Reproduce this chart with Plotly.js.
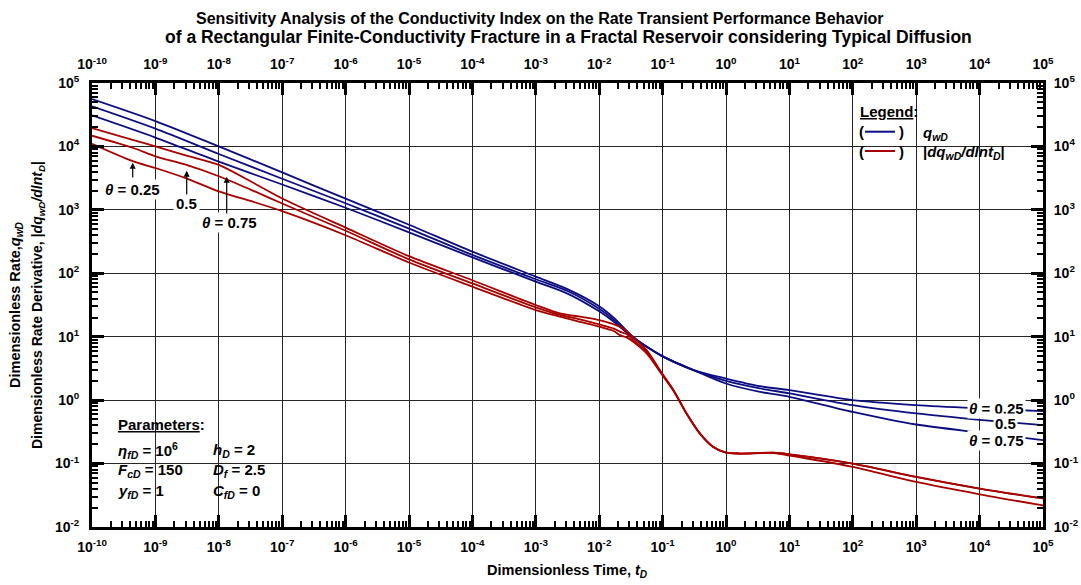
<!DOCTYPE html>
<html><head><meta charset="utf-8">
<script src="https://cdn.plot.ly/plotly-3.0.1.min.js"></script>
<style>html,body{margin:0;padding:0;background:#fff;}#chart{width:1081px;height:585px;}</style>
</head><body><div id="chart"></div>
<script>
// ---------- data ----------
const tBlue = [1e-10, 1e-9, 1e-8, 1e-7, 1e-6, 1e-5, 1e-4, 1e-3, 3.16e-3, 1e-2, 1.78e-2, 3.16e-2, 5.62e-2, 0.1, 0.316, 1, 3.44, 10, 100, 1e3, 1e4, 1e5];
const qwD_theta025 = [30830, 13800, 5750, 2510, 1080, 442, 178, 73.8, 47.9, 25.1, 16.6, 10.2, 6.92, 4.90, 2.95, 2.19, 1.66, 1.44, 1.0, 0.834, 0.741, 0.670];
const qwD_theta05  = [42760, 19050, 7590, 3090, 1270, 507, 195, 80.5, 52.5, 27.5, 17.8, 10.5, 6.92, 4.90, 2.95, 2.02, 1.53, 1.28, 0.834, 0.617, 0.490, 0.403];
const qwD_theta075 = [55850, 25120, 10000, 3890, 1500, 583, 219, 88.5, 56.2, 30.2, 19.1, 10.7, 6.92, 4.90, 2.95, 1.83, 1.35, 1.13, 0.653, 0.413, 0.309, 0.234];

const tRed = [1e-10, 4.5e-10, 1e-9, 3e-9, 1e-8, 3.16e-8, 1e-7, 1e-6, 1e-5, 1e-4, 1e-3, 2.4e-3, 4.95e-3, 1e-2, 1.67e-2, 2.12e-2, 2.7e-2, 3.44e-2, 5.6e-2, 9.1e-2, 0.148, 0.239, 0.389, 0.631, 1, 1.66, 5.6, 10, 100, 1e3, 1e4, 1e5];
const dqwD_theta025 = [11020, 5810, 4570, 3160, 1950, 1380, 955, 398, 148, 61.7, 26.3, 20.7, 17.2, 14.4, 12.4, 10.6, 9.75, 8.34, 5.45, 2.80, 1.41, 0.610, 0.295, 0.182, 0.149, 0.144, 0.148, 0.140, 0.100, 0.0617, 0.0404, 0.0282];
const dqwD_theta05  = [14760, 9440, 6970, 5150, 3390, 2090, 1260, 468, 166, 69.2, 29.0, 22.0, 18.7, 15.6, 13.5, 12.0, 11.0, 8.85, 5.79, 2.86, 1.44, 0.615, 0.297, 0.183, 0.149, 0.144, 0.148, 0.140, 0.100, 0.0617, 0.0404, 0.0282];
const dqwD_theta075 = [19500, 12590, 10000, 7240, 5120, 2820, 1510, 525, 186, 77.6, 31.6, 23.3, 20.7, 18.3, 15.8, 14.4, 12.3, 9.75, 6.15, 2.97, 1.44, 0.615, 0.297, 0.183, 0.149, 0.144, 0.146, 0.134, 0.0885, 0.0513, 0.0328, 0.0219];

const xDecades = [1e-10,1e-9,1e-8,1e-7,1e-6,1e-5,1e-4,1e-3,1e-2,1e-1,1,10,100,1e3,1e4,1e5];
const xTickText = ['10<sup>-10</sup>','10<sup>-9</sup>','10<sup>-8</sup>','10<sup>-7</sup>','10<sup>-6</sup>','10<sup>-5</sup>','10<sup>-4</sup>','10<sup>-3</sup>','10<sup>-2</sup>','10<sup>-1</sup>','10<sup>0</sup>','10<sup>1</sup>','10<sup>2</sup>','10<sup>3</sup>','10<sup>4</sup>','10<sup>5</sup>'];
const yDecades = [1e-2,1e-1,1,10,100,1e3,1e4,1e5];
const yTickText = ['10<sup>-2</sup>','10<sup>-1</sup>','10<sup>0</sup>','10<sup>1</sup>','10<sup>2</sup>','10<sup>3</sup>','10<sup>4</sup>','10<sup>5</sup>'];
const titleLines = ['Sensitivity Analysis of the Conductivity Index on the Rate Transient Performance Behavior',
                    'of a Rectangular Finite-Conductivity Fracture in a Fractal Reservoir considering Typical Diffusion'];

// ---------- styling ----------
const FONT = 'Liberation Sans, Arial, Helvetica, sans-serif';
const BLUE = '#0d0d80';
const RED = '#a80000';
const L = 92, R = 38, T = 83, B = 58, W = 1081 - L - R, H = 585 - T - B;
const px = p => (p - L) / W;
const py = p => 1 - (p - T) / H;

function minorVals(lo, hi) {
  const v = [];
  for (let k = lo; k < hi; k++) for (let m = 2; m <= 9; m++) v.push(m * Math.pow(10, k));
  return v;
}
const xMinor = minorVals(-10, 5);
const yMinor = minorVals(-2, 5);

function axis(extra, vals, text, minor) {
  return Object.assign({
    type: 'log', tickmode: 'array', tickvals: vals, ticktext: text,
    ticks: 'inside', ticklen: 12, tickwidth: 3, tickcolor: '#000',
    showline: true, linewidth: 3, linecolor: '#000', zeroline: false,
    tickfont: {family: FONT, size: 14, color: '#000', weight: 'bold'},
    minor: {tickvals: minor, ticks: 'inside', ticklen: 6, tickwidth: 2, tickcolor: '#000', showgrid: false},
    fixedrange: true
  }, extra);
}

const line = (x, y, c, name) => ({x, y, type: 'scatter', mode: 'lines', name,
  line: {color: c, width: 1.8, shape: 'spline', smoothing: 0.8}, showlegend: false, hoverinfo: 'skip'});

const traces = [
  line(tBlue, qwD_theta025, BLUE, 'qwD θ=0.25'),
  line(tBlue, qwD_theta05, BLUE, 'qwD θ=0.5'),
  line(tBlue, qwD_theta075, BLUE, 'qwD θ=0.75'),
  line(tRed, dqwD_theta025, RED, 'dqwD θ=0.25'),
  line(tRed, dqwD_theta05, RED, 'dqwD θ=0.5'),
  line(tRed, dqwD_theta075, RED, 'dqwD θ=0.75'),
  {x: [], y: [], xaxis: 'x2', yaxis: 'y2', type: 'scatter', mode: 'lines', showlegend: false, hoverinfo: 'skip'}
];

const f = (size, extra) => Object.assign({family: FONT, size: size, color: '#000', weight: 'bold'}, extra || {});
function txt(text, x, y, opts) {
  return Object.assign({text, xref: 'paper', yref: 'paper', x: px(x), y: py(y), showarrow: false,
    xanchor: 'center', yanchor: 'middle', font: f(15)}, opts || {});
}
function arrow(x, yTip, yTail) {
  return {text: '', xref: 'paper', yref: 'paper', x: px(x), y: py(yTip), ax: 0, ay: yTail - yTip,
    showarrow: true, arrowhead: 2, arrowsize: 1, arrowwidth: 1.2, arrowcolor: '#000'};
}
const th = '<i>θ</i>';
const annotations = [
  txt(titleLines[0], 540, 18, {font: f(16)}),
  txt(titleLines[1], 568, 37, {font: f(17.5)}),
  txt('Dimensionless Rate,<i>q<sub>wD</sub></i>', 16, 305, {textangle: -90, font: f(14.5)}),
  txt('Dimensionless Rate Derivative, |<i>dq<sub>wD</sub>/dlnt<sub>D</sub></i>|', 38, 305, {textangle: -90, font: f(14)}),
  txt('Dimensionless Time, <i>t<sub>D</sub></i>', 567, 571, {font: f(14.5)}),
  // left-hand theta labels
  txt(th + ' = 0.25', 132.5, 189, {bgcolor: '#fff', borderpad: 1}),
  txt('0.5', 186, 203, {bgcolor: '#fff', borderpad: 2}),
  txt(th + ' = 0.75', 229, 222.5, {bgcolor: '#fff', borderpad: 1}),
  arrow(132.7, 162.7, 179),
  arrow(186.7, 170.7, 196),
  arrow(226.7, 176.7, 215),
  // right-hand theta labels
  txt(th + ' = 0.25', 996.5, 408, {bgcolor: '#fff', borderpad: 1}),
  txt('0.5', 1005, 423, {bgcolor: '#fff', borderpad: 1}),
  txt(th + ' = 0.75', 996.5, 440, {bgcolor: '#fff', borderpad: 1}),
  // legend
  txt('<u>Legend</u>:', 858, 111, {xanchor: 'left'}),
  txt('(', 857, 131.7, {xanchor: 'left'}),
  txt(')', 897, 131.7, {xanchor: 'left'}),
  txt('(', 857, 151, {xanchor: 'left'}),
  txt(')', 897, 151, {xanchor: 'left'}),
  txt('<i>q<sub>wD</sub></i>', 921, 133, {xanchor: 'left'}),
  txt('|<i>dq<sub>wD</sub>/dlnt<sub>D</sub></i>|', 921, 152, {xanchor: 'left'}),
  // parameters
  txt('<u>Parameters</u>:', 116, 424, {xanchor: 'left'}),
  txt('<i>η<sub>fD</sub></i> = 10<sup>6</sup>', 116, 450, {xanchor: 'left'}),
  txt('<i>F<sub>cD</sub></i> = 150', 116, 470, {xanchor: 'left'}),
  txt('<i>y<sub>fD</sub></i> = 1', 116, 491, {xanchor: 'left'}),
  txt('<i>h<sub>D</sub></i> = 2', 211, 450, {xanchor: 'left'}),
  txt('<i>D<sub>f</sub></i> = 2.5', 211, 470, {xanchor: 'left'}),
  txt('<i>C<sub>fD</sub></i> = 0', 211, 491, {xanchor: 'left'})
];

const rect = (x0, y0, x1, y1) => ({type: 'rect', xref: 'paper', yref: 'paper', x0: px(x0), x1: px(x1), y0: py(y1), y1: py(y0),
  fillcolor: '#fff', line: {width: 0}, layer: 'between'});
const seg = (x0, x1, y, c) => ({type: 'line', xref: 'paper', yref: 'paper', x0: px(x0), x1: px(x1), y0: py(y), y1: py(y),
  line: {color: c, width: 2}, layer: 'above'});
const shapes = [
  rect(853, 100, 1008, 162),
  rect(112, 410, 268, 503),
  seg(865, 895, 131.7, BLUE),
  seg(865, 895, 151, RED)
];

const layout = {
  width: 1081, height: 585,
  margin: {l: L, r: R, t: T, b: B, pad: 0},
  paper_bgcolor: '#fff', plot_bgcolor: '#fff',
  font: {family: FONT, size: 13, color: '#000', weight: 'bold'},
  xaxis: axis({range: [-10, 5], side: 'bottom', showgrid: true, gridcolor: '#262626', gridwidth: 1, ticklabelstandoff: 5}, xDecades, xTickText, xMinor),
  yaxis: axis({range: [-2, 5], side: 'left', showgrid: true, gridcolor: '#262626', gridwidth: 1, ticklabelstandoff: 7}, yDecades, yTickText, yMinor),
  xaxis2: axis({range: [-10, 5], side: 'top', overlaying: 'x', anchor: 'y', showgrid: false, ticklabelstandoff: 5}, xDecades, xTickText, xMinor),
  yaxis2: axis({range: [-2, 5], side: 'right', overlaying: 'y', anchor: 'x', showgrid: false, ticklabelstandoff: 5}, yDecades, yTickText, yMinor),
  annotations, shapes, showlegend: false
};

Plotly.newPlot('chart', traces, layout, {displayModeBar: false, staticPlot: true});
</script></body></html>
